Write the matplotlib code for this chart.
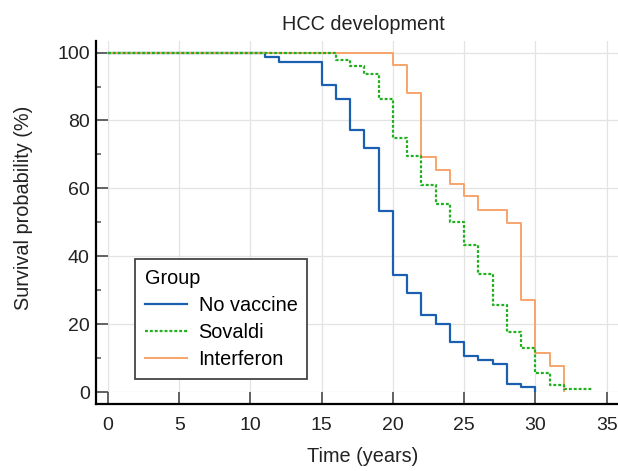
import matplotlib
matplotlib.use("Agg")
import matplotlib.pyplot as plt
from matplotlib.ticker import MultipleLocator

plt.rcParams['font.family'] = ['Liberation Sans', 'DejaVu Sans']

# 生存曲线数据 (时间, 生存概率%)
no_vaccine_t = [0, 11, 12, 15, 16, 17, 18, 19, 20, 21, 22, 23, 24, 25, 26, 27, 28, 29, 30]
no_vaccine_s = [100, 98.6, 97.2, 90.5, 86.4, 77.3, 71.9, 53.2, 34.6, 29.2, 22.7, 19.9,
                14.8, 10.6, 9.5, 8.2, 2.5, 1.4, 0.4]

sovaldi_t = [0, 16, 17, 18, 19, 20, 21, 22, 23, 24, 25, 26, 27, 28, 29, 30, 31, 32, 34]
sovaldi_s = [100, 97.8, 95.9, 93.7, 86.2, 74.7, 69.6, 61.0, 55.4, 50.1, 43.2, 34.9,
             25.6, 17.8, 13.0, 5.6, 2.0, 0.9, 0.9]

interferon_t = [0, 20, 21, 22, 23, 24, 25, 26, 28, 29, 30, 31, 32]
interferon_s = [100, 96.2, 88.2, 69.1, 65.4, 61.4, 57.7, 53.7, 49.9, 27.0, 11.6, 7.7, 0.4]

group_names = ["No vaccine", "Sovaldi", "Interferon"]

fs = 14.3

fig = plt.figure(figsize=(6.18, 4.71), dpi=100)
ax = fig.add_axes([0.1748, 0.1677, 0.8252, 0.7459])

ax.set_xlim(0, 35.8)
ax.set_ylim(0, 103.5)

l_blue, = ax.step(no_vaccine_t, no_vaccine_s, where='post', color='#1b5fb0', lw=1.6,
                  clip_on=False, zorder=3)
l_orange, = ax.step(interferon_t, interferon_s, where='post', color='#f8a46c', lw=1.4,
                    clip_on=False, zorder=4)
l_green, = ax.step(sovaldi_t, sovaldi_s, where='post', color='#1eb01e', lw=1.6,
                   linestyle=(0, (1.3, 0.9)), clip_on=False, zorder=5)

# 网格
ax.grid(True, color='#e3e3e3', lw=0.9)
ax.set_axisbelow(True)

# 坐标轴样式：脊线外移，刻度朝内
off_pt = 12 * 72 / 100
for side in ['top', 'right']:
    ax.spines[side].set_visible(False)
for side in ['left', 'bottom']:
    ax.spines[side].set_position(('outward', off_pt))
    ax.spines[side].set_linewidth(1.6)
    ax.spines[side].set_color('black')
ax.spines['left'].set_bounds(-3.5, 103.5)
ax.spines['bottom'].set_bounds(-0.84, 35.8)

ax.xaxis.set_major_locator(MultipleLocator(5))
ax.yaxis.set_major_locator(MultipleLocator(20))
ax.yaxis.set_minor_locator(MultipleLocator(10))
ax.tick_params(axis='both', which='major', direction='in', length=off_pt, width=1.3,
               color='#555555', labelsize=14, labelcolor='#222222')
ax.tick_params(axis='y', which='minor', direction='in', length=3.6, width=1.1,
               color='#555555')
ax.tick_params(axis='x', which='major', pad=9)
ax.tick_params(axis='y', which='major', pad=4.5)

ax.set_xlabel('Time (years)', fontsize=fs, color='#222222', labelpad=10)
ax.set_ylabel('Survival probability (%)', fontsize=fs, color='#222222')
ax.yaxis.set_label_coords(-0.147, 0.524)
ax.set_title('HCC development', fontsize=fs, color='#222222', pad=8)

leg = ax.legend([l_blue, l_green, l_orange], group_names, title='Group',
                loc='lower left', bbox_to_anchor=(0.053, 0.037), borderaxespad=0,
                fontsize=fs, title_fontsize=fs, fancybox=False, framealpha=1,
                edgecolor='#444444', handlelength=2.1, alignment='left',
                borderpad=0.5, labelspacing=0.4, handletextpad=0.6)
leg.get_frame().set_linewidth(1.3)

fig.savefig('out.png', dpi=100)
